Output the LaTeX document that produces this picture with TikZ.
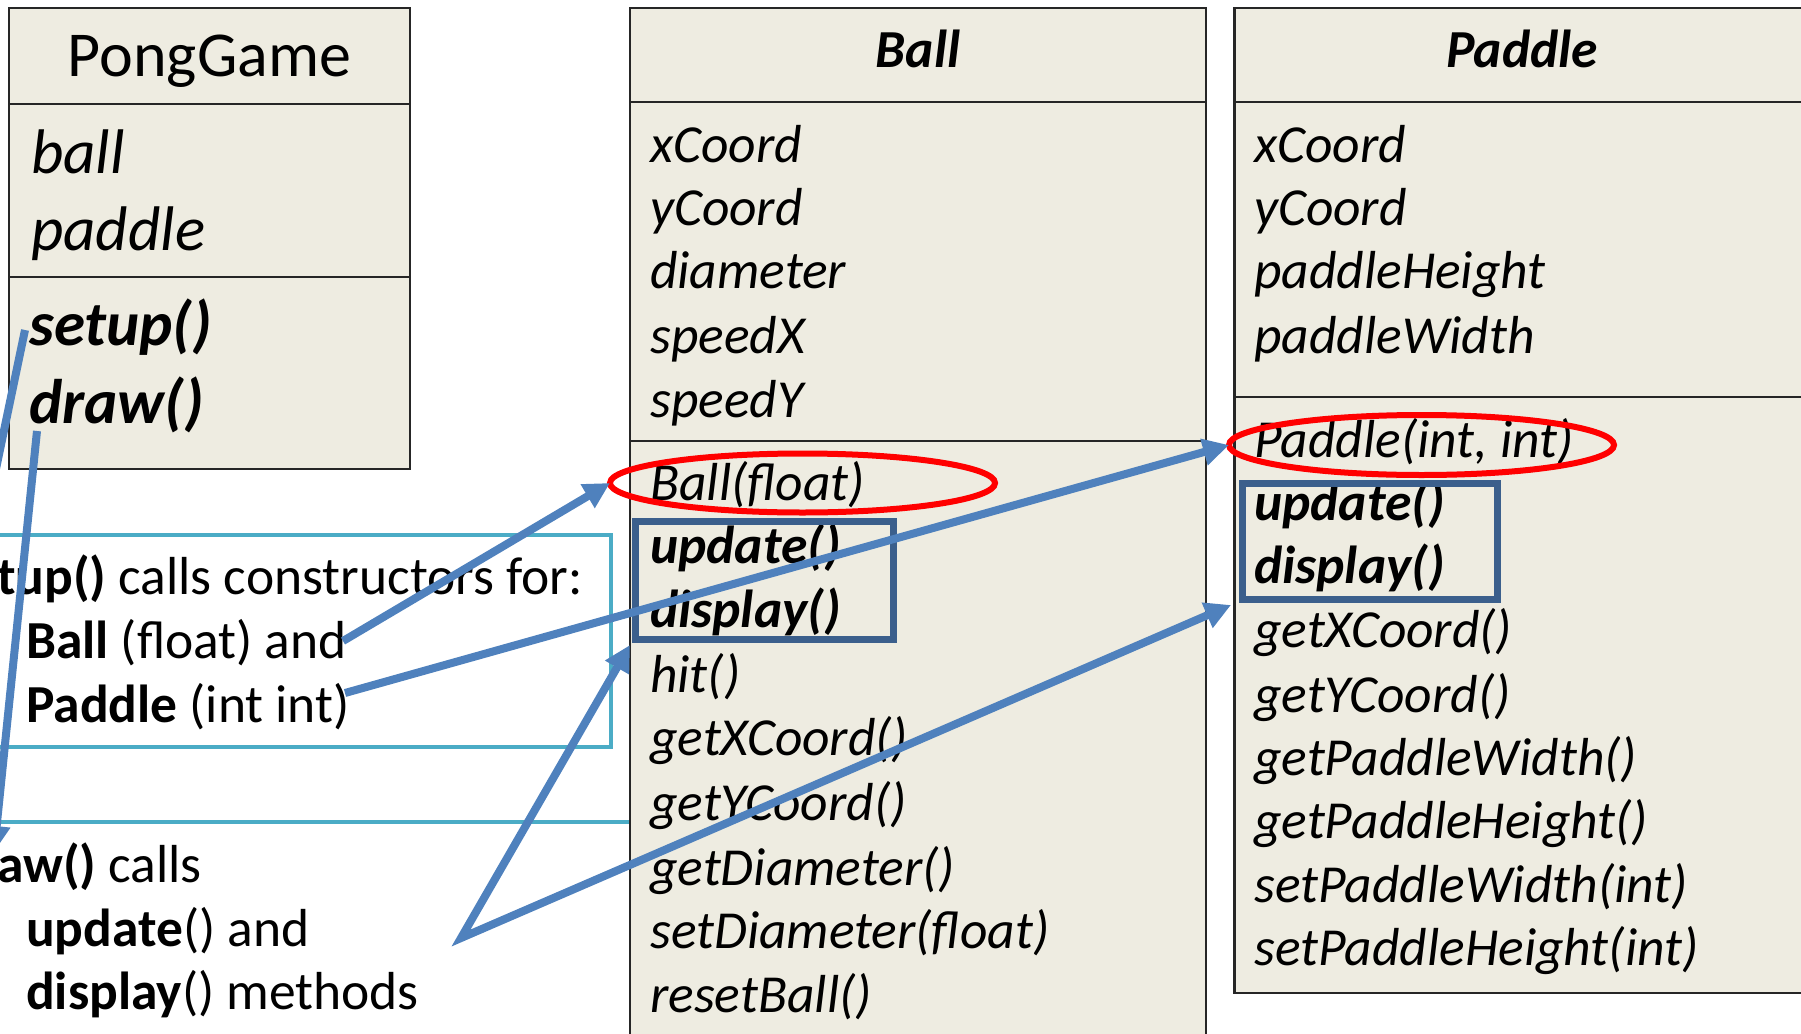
\documentclass[tikz,border=0pt]{standalone}
\usepackage{fontspec}
\setmainfont{Carlito}
\usetikzlibrary{arrows.meta,shapes.geometric}
\definecolor{boxfill}{HTML}{EEECE1}
\definecolor{callblue}{HTML}{4F81BD}
\definecolor{notecyan}{HTML}{4BACC6}
\definecolor{opsblue}{HTML}{3B5F8C}
\definecolor{ctorred}{HTML}{FF0000}
\tikzset{
  classbox/.style={draw=black!85,line width=2.5pt,fill=boxfill},
  divider/.style={draw=black!85,line width=2.5pt},
  notebox/.style={draw=notecyan,line width=4pt},
  txt/.style={inner sep=0pt,anchor=base west,font=\fontsize{53.5}{64}\selectfont},
  mem/.style={txt,font=\fontsize{53.5}{64}\selectfont\itshape},
  memb/.style={txt,font=\fontsize{53.5}{64}\selectfont\bfseries\itshape},
  classtitle/.style={inner sep=0pt,anchor=base,font=\fontsize{53.5}{64}\selectfont\bfseries\itshape},
  pgmem/.style={txt,font=\fontsize{63}{75}\selectfont\itshape},
  pgmemb/.style={txt,font=\fontsize{63}{75}\selectfont\bfseries\itshape},
  ctor/.style={ellipse,draw=ctorred,line width=6pt,inner sep=0pt,outer sep=0pt},
  ops/.style={rectangle,draw=opsblue,line width=6.5pt,inner sep=0pt,outer sep=0pt},
  tip/.tip={Triangle[length=26pt,width=26pt]},
  call/.style={draw=callblue,line width=8pt,-tip}
}
\begin{document}
\begin{tikzpicture}[x=1pt,y=-1pt]
\useasboundingbox (0,0) rectangle (1801,1033);

% annotation frames (partly hidden behind the Ball class)
\draw[notebox] (-20,535) rectangle (611,747);
\draw[notebox] (-20,822) rectangle (900,1100);

% PongGame class
\draw[classbox] (9,8) rectangle (410,469);
\draw[divider] (9,104) -- (410,104);
\draw[divider] (9,277) -- (410,277);
\node[inner sep=0pt,anchor=base,font=\fontsize{64}{76}\selectfont] (pgtitle) at (209.5,77) {PongGame};
\node[pgmem] (pgball) at (31,173) {ball};
\node[pgmem] (pgpaddle) at (31,250) {paddle};
\node[pgmemb] (pgsetup) at (29,345) {setup()};
\node[pgmemb] (pgdraw) at (29,423) {draw()};

% Ball class
\draw[classbox] (630,8) rectangle (1206,1050);
\draw[divider] (630,102) -- (1206,102);
\draw[divider] (630,441) -- (1206,441);
\node[classtitle] (balltitle) at (918,67) {Ball};
\node[mem] (bx) at (650,162) {xCoord};
\node[mem] (by) at (650,225) {yCoord};
\node[mem] (bd) at (650,288) {diameter};
\node[mem] (bsx) at (650,353) {speedX};
\node[mem] (bsy) at (650,417) {speedY};
\node[mem] (bctor) at (650,500) {Ball(float)};
\node[memb] (bupd) at (650,563) {update()};
\node[memb] (bdisp) at (650,627) {display()};
\node[mem] (bhit) at (650,692) {hit()};
\node[mem] (bgx) at (650,755) {getXCoord()};
\node[mem] (bgy) at (650,820) {getYCoord()};
\node[mem] (bgd) at (650,885) {getDiameter()};
\node[mem] (bsd) at (650,948) {setDiameter(float)};
\node[mem] (brb) at (650,1012) {resetBall()};

% Paddle class
\draw[classbox] (1234.5,8) rectangle (1812,993);
\draw[divider] (1234.5,102) -- (1812,102);
\draw[divider] (1234.5,397) -- (1812,397);
\node[classtitle] (paddletitle) at (1522,67) {Paddle};
\node[mem] (px) at (1254,162) {xCoord};
\node[mem] (py) at (1254,225) {yCoord};
\node[mem] (ph) at (1254,288) {paddleHeight};
\node[mem] (pw) at (1254,353) {paddleWidth};
\node[mem] (pctor) at (1254,457) {Paddle(int, int)};
\node[memb] (pupd) at (1254,520) {update()};
\node[memb] (pdisp) at (1254,583) {display()};
\node[mem] (pgx) at (1254,647) {getXCoord()};
\node[mem] (pgy) at (1254,712) {getYCoord()};
\node[mem] (pgw) at (1254,775) {getPaddleWidth()};
\node[mem] (pgh) at (1254,838) {getPaddleHeight()};
\node[mem] (psw) at (1254,902) {setPaddleWidth(int)};
\node[mem] (psh) at (1254,965) {setPaddleHeight(int)};

% highlights: constructors and per-frame methods
\node[ctor,minimum width=385pt,minimum height=59pt] (ballctor) at (802.5,483) {};
\node[ctor,minimum width=385pt,minimum height=60pt] (paddlector) at (1421.5,445) {};
\node[ops,minimum width=258pt,minimum height=118pt] (ballops) at (764.5,580.5) {};
\node[ops,minimum width=255pt,minimum height=116pt] (paddleops) at (1370,541.5) {};

% annotation text
\node[txt,anchor=base east] (setupnote) at (583,594) {\textbf{setup()} calls constructors for:};
\node[txt] (ballnote) at (26,658) {\textbf{Ball} (float) and};
\node[txt] (paddlenote) at (26,722) {\textbf{Paddle} (int int)};
\node[txt,anchor=base east] (drawnote) at (202,882) {\textbf{draw()} calls};
\node[txt] (updatenote) at (26,946) {\textbf{update}() and};
\node[txt] (displaynote) at (26,1009) {\textbf{display}() methods};

% connector end points
\coordinate (setupout) at (25,330);
\coordinate (setupin) at (-22,555);
\coordinate (drawout) at (37,431);
\coordinate (drawin) at (-6,852);
\coordinate (ballout) at (343,641);
\coordinate (paddleout) at (345,693);
\coordinate (drawvertex) at (461,938);
\coordinate (ballopsin) at (630,645);
\coordinate (paddleopsin) at (1231,605);

% call arrows
\draw[call] (setupout) -- (setupin);
\draw[call] (drawout) -- (drawin);
\draw[call] (ballout) -- (ballctor.west);
\draw[call] (paddleout) -- (paddlector.west);
\draw[call,tip-tip] (ballopsin) -- (drawvertex) -- (paddleopsin);
\end{tikzpicture}
\end{document}
